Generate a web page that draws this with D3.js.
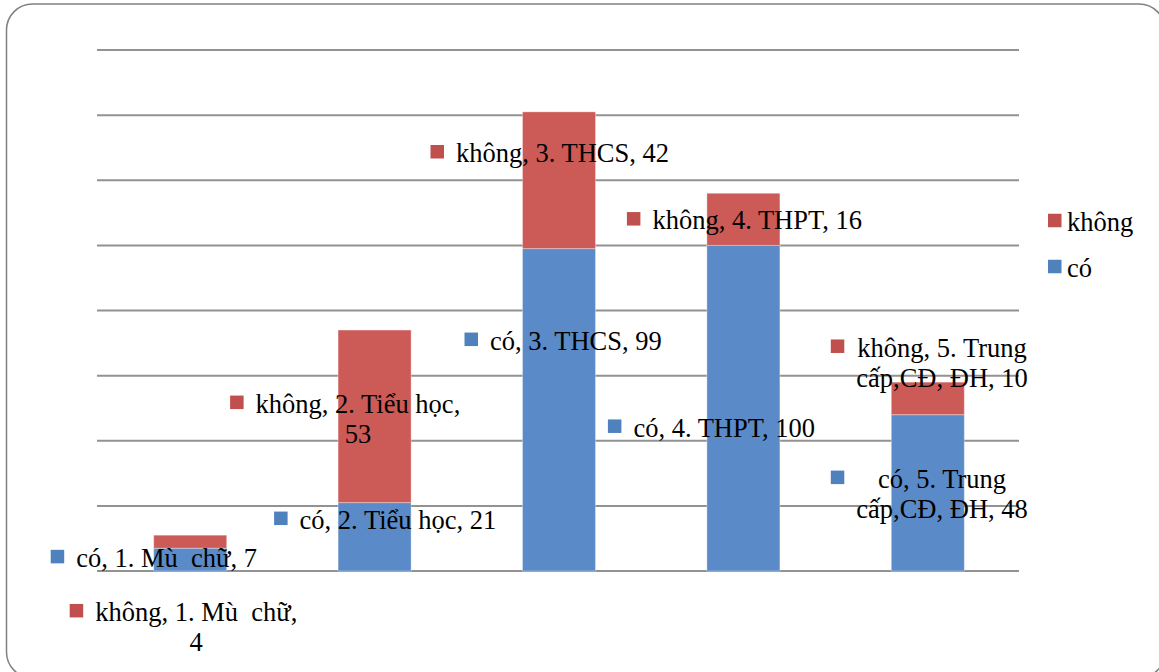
<!DOCTYPE html>
<html><head><meta charset="utf-8">
<script src="https://cdnjs.cloudflare.com/ajax/libs/d3/7.8.5/d3.min.js"></script>
<style>
html,body{margin:0;padding:0;background:#fff;}
svg{display:block;}
</style></head>
<body>
<svg id="chart" width="1159" height="672"></svg>
<script>
const categories = ["1. Mù  chữ", "2. Tiểu học", "3. THCS", "4. THPT", "5. Trung cấp,CĐ, ĐH"];
const seriesNames = ["có", "không"];
const coValues = [7, 21, 99, 100, 48];
const khongValues = [4, 53, 42, 16, 10];
const yTicks = [0, 20, 40, 60, 80, 100, 120, 140, 160];

const barColors = {"có": "#5A8AC7", "không": "#CC5A56"};
const keyColors = {"có": "#4F81BD", "không": "#C0504D"};
const FONT = "'Liberation Serif', 'Times New Roman', 'DejaVu Serif', serif";

// label placement: offset of key square left edge and first baseline relative to band centre / segment middle,
// and number of words on the first line
const labelLayout = {
  "có":    [[-139.5, 7.5, 99], [-100.5, -8, 99], [-94.5, -60, 99], [-135.5, 28.5, 99], [-97, -5, 3]],
  "không": [[-120.5, 79.5, 5], [-144.5, -3.5, 4], [-128.5, -18, 99], [-116.5, 10, 99], [-97, -41.7, 3]]
};

const svg = d3.select("#chart");

svg.append("rect").attr("x", 6.5).attr("y", 4).attr("width", 1158.5).attr("height", 674)
  .attr("rx", 26).attr("ry", 26).attr("fill", "#fff").attr("stroke", "#808080").attr("stroke-width", 1.5);

const x = d3.scaleBand().domain(categories).range([98, 1020]).paddingInner(0.604).paddingOuter(0.302);
const y = d3.scaleLinear().domain([0, 160]).range([571, 50]);

// gridlines
svg.append("g").selectAll("line").data(yTicks).join("line")
  .attr("x1", 97).attr("x2", 1019)
  .attr("y1", d => y(d)).attr("y2", d => y(d))
  .attr("stroke", "#929292").attr("stroke-width", 2);

const table = categories.map((c, i) => ({cat: c, "có": coValues[i], "không": khongValues[i]}));
const stacked = d3.stack().keys(seriesNames)(table);

const gBars = svg.append("g");
stacked.forEach(layer => {
  gBars.append("g").selectAll("rect").data(layer).join("rect")
    .attr("x", d => x(d.data.cat))
    .attr("width", x.bandwidth())
    .attr("y", d => y(d[1]))
    .attr("height", d => y(d[0]) - y(d[1]))
    .attr("fill", barColors[layer.key])
    .attr("stroke", "rgba(255,255,255,0.35)").attr("stroke-width", 1);
});

const fs = 26.5, lh = 30, keySize = 13.5;
const gLab = svg.append("g");
const meas = svg.append("text").attr("font-family", FONT).attr("font-size", fs).attr("xml:space", "preserve").attr("opacity", 0);
function tw(s){ meas.text(s); return meas.node().getComputedTextLength(); }

stacked.forEach(layer => {
  layer.forEach((d, i) => {
    const [dx, dy, nFirst] = labelLayout[layer.key][i];
    const val = d[1] - d[0];
    const full = `${layer.key}, ${d.data.cat}, ${val}`;
    const words = full.split(" ");
    let lines;
    if (nFirst >= words.length) lines = [full];
    else lines = [words.slice(0, nFirst).join(" "), words.slice(nFirst).join(" ")];
    const cx = x(d.data.cat) + x.bandwidth() / 2;
    const cy = (y(d[0]) + y(d[1])) / 2;
    const sqX = cx + dx, base = cy + dy;
    const widths = lines.map(tw);
    const blockW = d3.max(widths);
    const textLeft = sqX + keySize + 12;
    const mid = textLeft + blockW / 2;
    gLab.append("rect").attr("x", sqX).attr("y", base - 10.5 - keySize / 2)
      .attr("width", keySize).attr("height", keySize).attr("fill", keyColors[layer.key]);
    lines.forEach((ln, k) => {
      gLab.append("text").attr("x", mid).attr("y", base + k * lh)
        .attr("text-anchor", "middle").attr("font-family", FONT).attr("font-size", fs)
        .attr("xml:space", "preserve").attr("fill", "#000").text(ln);
    });
  });
});
meas.remove();

// legend
const legendOrder = ["không", "có"];
const gLeg = svg.append("g");
legendOrder.forEach((s, i) => {
  const by = 231 + i * 46;
  gLeg.append("rect").attr("x", 1048).attr("y", by - 10.5 - keySize / 2)
    .attr("width", keySize).attr("height", keySize).attr("fill", keyColors[s]);
  gLeg.append("text").attr("x", 1067).attr("y", by).attr("font-family", FONT).attr("font-size", fs)
    .attr("fill", "#000").text(s);
});
</script>
</body></html>
